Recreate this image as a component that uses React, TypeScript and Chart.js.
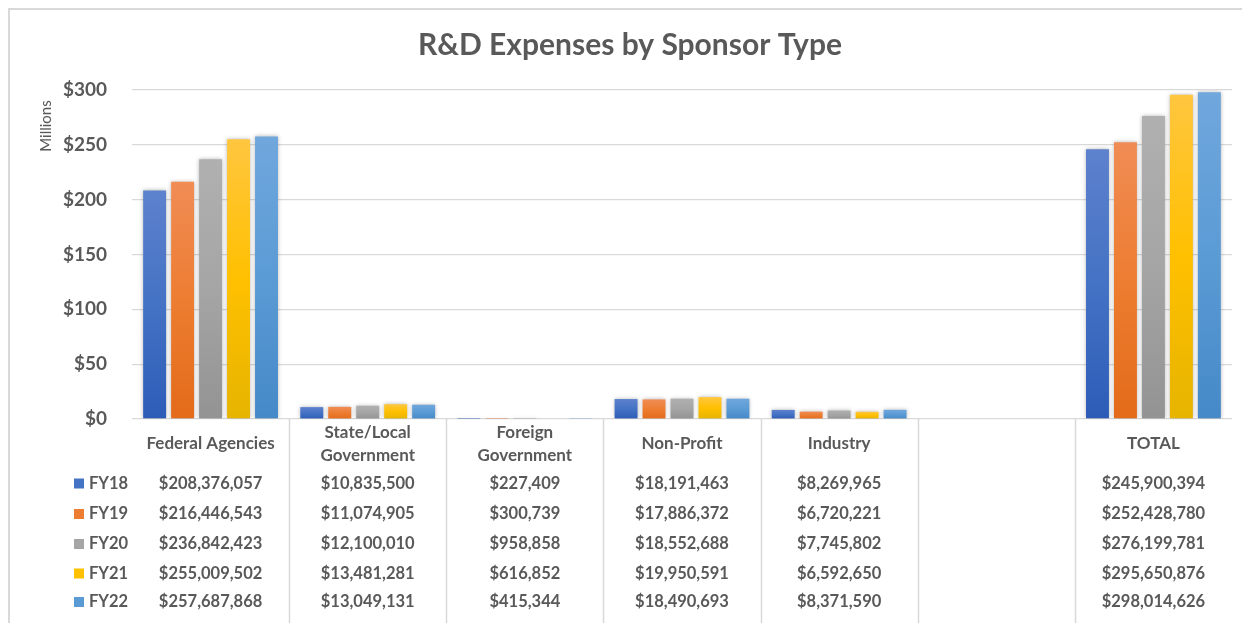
import React, { useEffect, useRef } from "react";
import { Chart, registerables } from "chart.js";

Chart.register(...registerables);

const categories = ["Federal Agencies", "State/Local Government", "Foreign Government", "Non-Profit", "Industry", "", "TOTAL"];
const categoryLines = [["Federal Agencies"], ["State/Local", "Government"], ["Foreign", "Government"], ["Non-Profit"], ["Industry"], [], ["TOTAL"]];
const seriesNames = ["FY18", "FY19", "FY20", "FY21", "FY22"];
const fy18 = [208376057, 10835500, 227409, 18191463, 8269965, null, 245900394];
const fy19 = [216446543, 11074905, 300739, 17886372, 6720221, null, 252428780];
const fy20 = [236842423, 12100010, 958858, 18552688, 7745802, null, 276199781];
const fy21 = [255009502, 13481281, 616852, 19950591, 6592650, null, 295650876];
const fy22 = [257687868, 13049131, 415344, 18490693, 8371590, null, 298014626];
const yTicks = [0, 50, 100, 150, 200, 250, 300];

const series = [fy18, fy19, fy20, fy21, fy22];
const baseColors = ["#4472C4", "#ED7D31", "#A5A5A5", "#FFC000", "#5B9BD5"];
const topColors = ["#5d81cd", "#f08c55", "#b0b0b0", "#ffc63f", "#70a7dd"];
const bottomColors = ["#2d5cb8", "#e36b1a", "#939393", "#e6b400", "#4589c8"];

const FONT = "Lato, 'Open Sans', sans-serif";
const TEXT = "#595959";
const GRID = "#d9d9d9";

const fmt = (v: number | null) => (v == null ? "" : "$" + v.toLocaleString("en-US"));

export default function App() {
  const ref = useRef<HTMLCanvasElement | null>(null);
  useEffect(() => {
    if (!ref.current) return;
    const gradientFor = (i: number) => (ctx: any) => {
      const chart = ctx.chart;
      const { chartArea, scales } = chart;
      const v = ctx.raw;
      if (!chartArea || !scales || !scales.y || ctx.type !== "data" || v == null) return baseColors[i];
      const y0 = scales.y.getPixelForValue(0);
      const y1 = scales.y.getPixelForValue(v);
      if (!isFinite(y0) || !isFinite(y1) || Math.abs(y0 - y1) < 1) return bottomColors[i];
      const g = chart.ctx.createLinearGradient(0, y1, 0, y0);
      g.addColorStop(0, topColors[i]);
      g.addColorStop(0.5, baseColors[i]);
      g.addColorStop(1, bottomColors[i]);
      return g;
    };

    const overlay = {
      id: "overlay",
      beforeDatasetsDraw(chart: any) {
        const c = chart.ctx;
        c.save();
        c.shadowColor = "rgba(0,0,0,0.28)";
        c.shadowBlur = 4;
        c.shadowOffsetX = 0;
        c.shadowOffsetY = 0;
      },
      afterDatasetsDraw(chart: any) {
        chart.ctx.restore();
      },
      afterDraw(chart: any) {
        const c = chart.ctx;
        const area = chart.chartArea;
        const xs = chart.scales.x;
        const H = chart.height;
        c.save();
        // title
        c.fillStyle = TEXT;
        c.textAlign = "center";
        c.textBaseline = "middle";
        c.font = `bold 30px ${FONT}`;
        c.fillText("R&D Expenses by Sponsor Type", 620, 35);
        // Millions
        c.save();
        c.translate(36, 116);
        c.rotate(-Math.PI / 2);
        c.font = `15px ${FONT}`;
        c.fillText("Millions", 0, 0);
        c.restore();
        // separators
        c.strokeStyle = GRID;
        c.lineWidth = 1.5;
        for (let i = 0; i < categories.length - 1; i++) {
          const x = Math.round((xs.getPixelForValue(i) + xs.getPixelForValue(i + 1)) / 2) + 0.5;
          c.beginPath();
          c.moveTo(x, area.bottom);
          c.lineTo(x, H);
          c.stroke();
        }
        // category labels
        c.fillStyle = TEXT;
        c.font = `bold 17px ${FONT}`;
        categoryLines.forEach((lines, i) => {
          const x = xs.getPixelForValue(i);
          if (lines.length === 1) c.fillText(lines[0], x, 434);
          else lines.forEach((l, k) => c.fillText(l, x, 423 + k * 22.5));
        });
        // rows
        const rowY = [473.5, 504, 534, 563.5, 592];
        series.forEach((s, r) => {
          const y = rowY[r];
          c.fillStyle = baseColors[r];
          c.fillRect(64, y - 5, 10, 10);
          c.fillStyle = TEXT;
          c.textAlign = "left";
          c.font = `bold 16.5px ${FONT}`;
          c.fillText(seriesNames[r], 79, y);
          c.textAlign = "center";
          s.forEach((v, i) => {
            if (v == null) return;
            c.fillText(fmt(v), xs.getPixelForValue(i), y);
          });
        });
        c.restore();
      },
    };

    const chart = new Chart(ref.current, {
      type: "bar",
      data: {
        labels: categories,
        datasets: series.map((s, i) => ({
          label: seriesNames[i],
          data: s.map((v) => (v == null ? null : v / 1e6)),
          backgroundColor: gradientFor(i),
          borderWidth: 0,
          categoryPercentage: 0.89,
          barPercentage: 0.82,
        })),
      },
      options: {
        responsive: true,
        maintainAspectRatio: false,
        animation: false,
        layout: { padding: { top: 80, bottom: 204, right: 10, left: 0 } },
        plugins: { legend: { display: false }, title: { display: false }, tooltip: { enabled: false } },
        scales: {
          x: { display: false },
          y: {
            min: 0,
            max: 300,
            afterFit: (s: any) => {
              s.width = 122;
            },
            afterBuildTicks: (s: any) => {
              s.ticks = yTicks.map((v) => ({ value: v }));
            },
            border: { display: false },
            grid: { color: GRID, lineWidth: 1.3, drawTicks: false },
            ticks: {
              padding: 25,
              color: TEXT,
              font: { family: FONT, size: 19, weight: "bold" },
              callback: (v: any) => "$" + v,
            },
          },
        },
      },
      plugins: [overlay],
    });
    return () => chart.destroy();
  }, []);

  return (
    <div
      style={{
        position: "relative",
        width: 1234,
        height: 615,
        boxSizing: "border-box",
        borderTop: "2px solid #d9d9d9",
        borderLeft: "2px solid #d9d9d9",
        background: "#fff",
      }}
    >
      <canvas ref={ref} />
    </div>
  );
}
